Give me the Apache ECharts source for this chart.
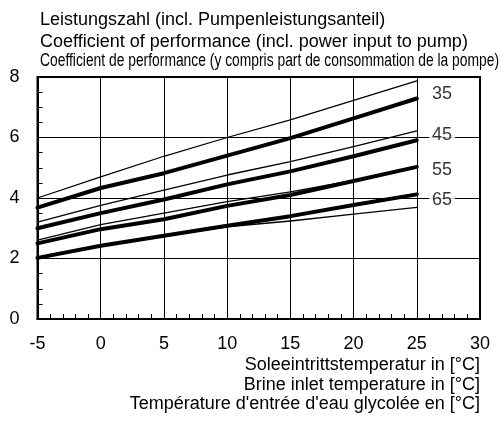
<!DOCTYPE html>
<html lang="de">
<head>
    <meta charset="UTF-8">
    <script src="https://cdn.jsdelivr.net/npm/echarts@6/dist/echarts.min.js"></script>
    <style>
        body{ margin:0; background:#fff; }
        #main{ width:504px; height:421px; }
    </style>
</head>
<body>
    <div id="main"></div>
</body>
<script>
    // Soleeintrittstemperatur [°C]
    var temps = [-5, 0, 5, 10, 15, 20, 25];

    // dicke Linien (Vorlauftemperatur 35/45/55/65)
    var thick35 = [3.68, 4.33, 4.82, 5.40, 5.98, 6.63, 7.29];
    var thick45 = [3.00, 3.50, 3.95, 4.45, 4.88, 5.38, 5.91];
    var thick55 = [2.50, 2.97, 3.30, 3.74, 4.10, 4.56, 5.03];
    var thick65 = [2.02, 2.42, 2.75, 3.08, 3.40, 3.77, 4.12];

    // dünne Linien
    var thin35 = [4.00, 4.70, 5.38, 6.00, 6.58, 7.23, 7.87];
    var thin45 = [3.20, 3.76, 4.26, 4.76, 5.20, 5.70, 6.22];
    var thin55 = [2.61, 3.12, 3.50, 3.88, 4.20, 4.58, 5.03];
    var thin65 = [2.02, 2.42, 2.74, 3.05, 3.24, 3.47, 3.69];

    var curveLabels = ['35', '45', '55', '65'];
    var labelX = 27;
    var labelY = [7.45, 6.08, 4.92, 3.93];

    var titleLines = [
        'Leistungszahl (incl. Pumpenleistungsanteil)',
        'Coefficient of performance (incl. power input to pump)',
        'Coefficient de performance (y compris part de consommation de la pompe)'
    ];
    var xTitleLines = [
        'Soleeintrittstemperatur in [°C]',
        'Brine inlet temperature in [°C]',
        "Température d'entrée d'eau glycolée en [°C]"
    ];

    function pairs(ys){
        return temps.map(function(t, i){ return [t, ys[i]]; });
    }
    function line(ys, w){
        return {
            type: 'line',
            data: pairs(ys),
            symbol: 'none',
            silent: true,
            lineStyle: { color: '#000', width: w, cap: 'round', join: 'round' },
            z: w > 2 ? 4 : 3
        };
    }

    var font = 'Arial, "Liberation Sans", sans-serif';
    var tStyle = { fontFamily: font, fontSize: 18, fontWeight: 'normal', color: '#000' };

    // dritte Titelzeile ist schmal gesetzt -> horizontal stauchen
    var ctx = document.createElement('canvas').getContext('2d');
    ctx.font = '18px ' + font;
    var narrow = 459 / ctx.measureText(titleLines[2]).width;

    var myChart = echarts.init(document.getElementById('main'));
    var option = {
        animation: false,
        title: [
            { text: titleLines[0], left: 40, top: 11, padding: 0, textStyle: tStyle },
            { text: titleLines[1], left: 40, top: 33, padding: 0, textStyle: tStyle },
            { text: xTitleLines[0], right: 24, top: 356, padding: 0, textStyle: tStyle },
            { text: xTitleLines[1], right: 24, top: 376, padding: 0, textStyle: tStyle },
            { text: xTitleLines[2], right: 24, top: 395, padding: 0, textStyle: tStyle }
        ],
        graphic: [{
            type: 'text', x: 40, y: 52, scaleX: narrow,
            style: { text: titleLines[2], font: '18px ' + font, fill: '#000', textVerticalAlign: 'top' }
        }],
        grid: {
            left: 37.5, right: 24, top: 77, bottom: 102,
            show: true, borderColor: '#000', borderWidth: 2
        },
        xAxis: {
            type: 'value', min: -5, max: 30, interval: 5,
            axisLine: { onZero: false, lineStyle: { color: '#000', width: 2 } },
            axisTick: { show: false, inside: true },
            minorTick: { show: true, splitNumber: 5, length: 5, lineStyle: { color: '#000', width: 1 } },
            splitLine: { show: true, lineStyle: { color: '#000', width: 1 } },
            axisLabel: { fontFamily: font, fontSize: 18, color: '#000', margin: 16 }
        },
        yAxis: {
            type: 'value', min: 0, max: 8, interval: 2,
            axisLine: { show: true, onZero: false, lineStyle: { color: '#000', width: 2 } },
            axisTick: { show: false, inside: true },
            minorTick: { show: true, splitNumber: 4, length: 5, lineStyle: { color: '#000', width: 1 } },
            splitLine: { show: true, lineStyle: { color: '#000', width: 1 } },
            axisLabel: { fontFamily: font, fontSize: 18, color: '#000', margin: 18 }
        },
        series: [
            line(thin35, 1.3), line(thin45, 1.3), line(thin55, 1.3), line(thin65, 1.3),
            line(thick35, 4), line(thick45, 4), line(thick55, 4), line(thick65, 4),
            {
                type: 'scatter',
                silent: true,
                symbolSize: 0,
                z: 6,
                data: labelY.map(function(y, i){ return { value: [labelX, y], name: curveLabels[i] }; }),
                label: {
                    show: true, position: 'inside', formatter: '{b}',
                    fontFamily: font, fontSize: 18, color: '#000',
                    backgroundColor: '#fff', padding: [1, 3]
                }
            }
        ]
    };
    myChart.setOption(option);
</script>
</html>
